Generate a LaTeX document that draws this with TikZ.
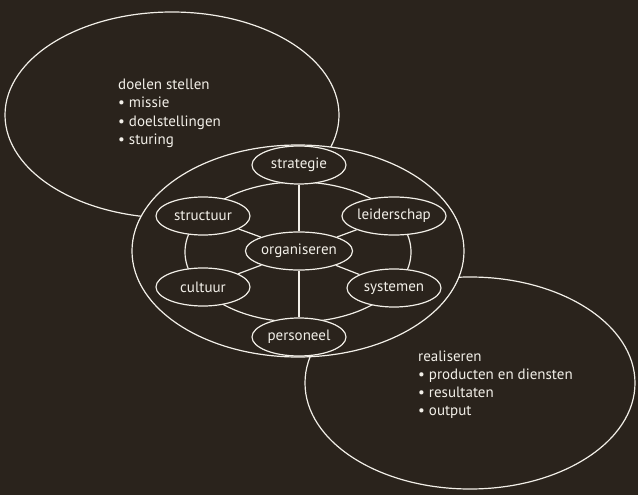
\documentclass[tikz,border=0pt]{standalone}
\usepackage{fontspec}
\setmainfont{PT Sans}
\usetikzlibrary{shapes.geometric}
\definecolor{bg}{RGB}{42,35,28}
\definecolor{fg}{RGB}{242,239,232}
\begin{document}
\begin{tikzpicture}[x=1pt,y=-1pt,
  line/.style={draw=fg, line width=1.2pt},
  blob/.style={ellipse, draw=fg, line width=1.2pt, fill=bg, minimum width=94pt, minimum height=38pt, inner sep=0pt, text=fg, font=\fontsize{15}{18}\selectfont},
  txt/.style={anchor=base west, inner sep=0pt, text=fg, font=\fontsize{15}{18}\selectfont}]
\fill[bg] (0,0) rectangle (638,495);
\useasboundingbox (0,0) rectangle (638,495);
% big outer ellipses
\draw[line] (172,115) ellipse [x radius=167pt, y radius=103pt];
\draw[line] (470,383) ellipse [x radius=165pt, y radius=106pt];
\draw[line, fill=bg] (298,251) ellipse [x radius=166pt, y radius=106pt];
% inner ring
\draw[line] (298,252) ellipse [x radius=113pt, y radius=70pt];
% nodes
\node[blob] (strat) at (299,165) {strategie};
\node[blob] (struc) at (203,216) {structuur};
\node[blob] (leid)  at (394,216) {leiderschap};
\node[blob] (org)   at (299,251) {organiseren};
\node[blob] (cult)  at (203,287) {cultuur};
\node[blob] (sys)   at (394,288) {systemen};
\node[blob] (pers)  at (299,337) {personeel};
% spokes
\draw[line] (org) -- (strat);
\draw[line] (org) -- (pers);
\draw[line] (org) -- (struc);
\draw[line] (org) -- (leid);
\draw[line] (org) -- (cult);
\draw[line] (org) -- (sys);
% text blocks
\node[txt] (d1) at (118,90)  {doelen stellen};
\node[txt] (d2) at (118,108) {• missie};
\node[txt] (d3) at (118,126) {• doelstellingen};
\node[txt] (d4) at (118,144) {• sturing};
\node[txt] (r1) at (418,361) {realiseren};
\node[txt] (r2) at (418,379) {• producten en diensten};
\node[txt] (r3) at (418,397) {• resultaten};
\node[txt] (r4) at (418,415) {• output};
\end{tikzpicture}
\end{document}
